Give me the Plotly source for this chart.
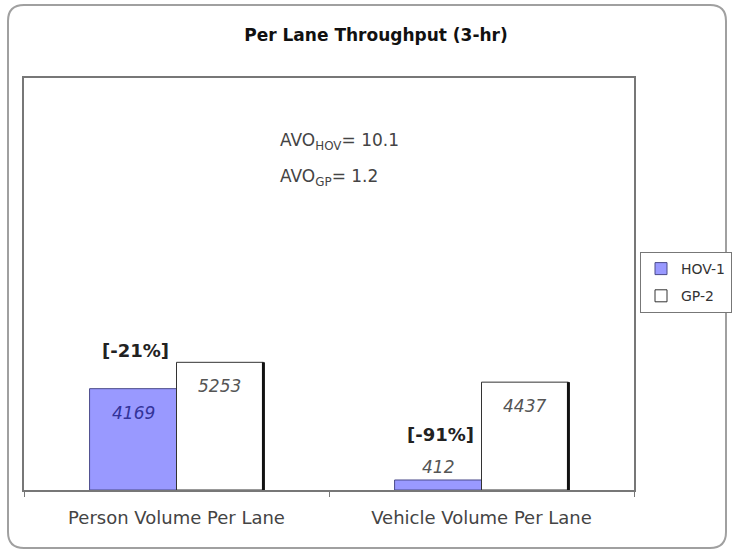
import plotly.graph_objects as go

categories = ["Person Volume Per Lane", "Vehicle Volume Per Lane"]
hov_values = [4169, 412]
gp_values = [5253, 4437]
series_names = ["HOV-1", "GP-2"]
avo_hov = 10.1
avo_gp = 1.2

W, H = 734, 553
L, R, T, B = 24, 100, 78, 63
bargap = 0.43
bar_w = (1 - bargap) / 2
FONT = "DejaVu Sans, Liberation Sans, Arial, sans-serif"


def px(x, y):
    # pixel -> paper coords
    return (x - L) / (W - L - R), (H - B - y) / (H - T - B)


fig = go.Figure()
fig.add_trace(go.Bar(
    name=series_names[0], x=categories, y=hov_values, legendgroup="a",
    marker=dict(color="#9999FF", line=dict(color="#4a4a8a", width=1)),
))
fig.add_trace(go.Bar(
    name=series_names[1], x=categories, y=gp_values, legendgroup="b",
    marker=dict(color="white", line=dict(color="#333333", width=1)),
))

# value labels: inside near the top, or just above when the bar is short
for i, (h, g) in enumerate(zip(hov_values, gp_values)):
    for v, off, col in ((h, -bar_w / 2, "#333399"), (g, bar_w / 2, "#555555")):
        inside = v > 1500
        fig.add_annotation(
            x=i + off, y=v, xref="x", yref="y", showarrow=False,
            text=f"<i>{v}</i>", yanchor="top" if inside else "bottom",
            yshift=-12 if inside else 1,
            font=dict(size=17, color=col if inside else "#555555"))

# dark shadow edge on the right side of the GP bars
for i, v in enumerate(gp_values):
    fig.add_shape(type="line", xref="x", yref="y",
                  x0=i + bar_w, x1=i + bar_w, y0=0, y1=v,
                  line=dict(color="#111111", width=3))

# percentage difference labels above the HOV bars
pct_lift = [26, 33]
for i, (h, g) in enumerate(zip(hov_values, gp_values)):
    pct = round((h - g) / g * 100)
    fig.add_annotation(x=i - bar_w / 2, y=h, xref="x", yref="y",
                       text=f"<b>[{pct}%]</b>", showarrow=False,
                       yanchor="bottom", yshift=pct_lift[i], xshift=2,
                       font=dict(size=18, color="#222222"))

ax, ay = px(278, 128)
fig.add_annotation(x=ax, y=ay, xref="paper", yref="paper", xanchor="left",
                   text=f"AVO<sub>HOV</sub>= {avo_hov}", showarrow=False,
                   font=dict(size=17, color="#444444"))
ax, ay = px(278, 164)
fig.add_annotation(x=ax, y=ay, xref="paper", yref="paper", xanchor="left",
                   text=f"AVO<sub>GP</sub>= {avo_gp}", showarrow=False,
                   font=dict(size=17, color="#444444"))

# rounded outer frame
x0, y0 = px(8, 5)
x1, y1 = px(726, 548)
rx = 16 / (W - L - R)
ry = 16 / (H - T - B)
path = (f"M {x0 + rx} {y0} L {x1 - rx} {y0} Q {x1} {y0} {x1} {y0 - ry} "
        f"L {x1} {y1 + ry} Q {x1} {y1} {x1 - rx} {y1} "
        f"L {x0 + rx} {y1} Q {x0} {y1} {x0} {y1 + ry} "
        f"L {x0} {y0 - ry} Q {x0} {y0} {x0 + rx} {y0} Z")
fig.add_shape(type="path", xref="paper", yref="paper", path=path,
              line=dict(color="#a0a0a0", width=2), layer="below")

tx, _ = px(376, 0)
lx, ly = px(640, 252)
fig.update_layout(
    width=W, height=H,
    margin=dict(l=L, r=R, t=T, b=B, autoexpand=False),
    paper_bgcolor="white", plot_bgcolor="white",
    font=dict(family=FONT, color="#333333"),
    title=dict(text="<b>Per Lane Throughput (3-hr)</b>", x=tx, xref="paper",
               xanchor="center", y=1 - 35 / H, yanchor="middle",
               font=dict(size=17, color="#111111")),
    barmode="group", bargap=bargap, bargroupgap=0,
    showlegend=True,
    legend=dict(x=lx, y=ly, xanchor="left", yanchor="top",
                bordercolor="#777777", borderwidth=1,
                font=dict(size=14, color="#333333"),
                traceorder="grouped", itemwidth=30, tracegroupgap=6),
    xaxis=dict(showline=True, linecolor="#777777", linewidth=1.5, mirror=True,
               ticks="outside", tickson="boundaries", ticklen=5,
               tickcolor="#777777", tickfont=dict(size=18, color="#444444"),
               ticklabelstandoff=11, showgrid=False),
    yaxis=dict(range=[0, 16950], showticklabels=False, showgrid=False,
               showline=True, linecolor="#777777", linewidth=1.5, mirror=True,
               ticks="", zeroline=False),
)

fig.write_html(
    "out.html",
    config={"displayModeBar": False},
    post_script="document.body.style.margin='0';"
                "document.body.style.overflow='hidden';",
)
